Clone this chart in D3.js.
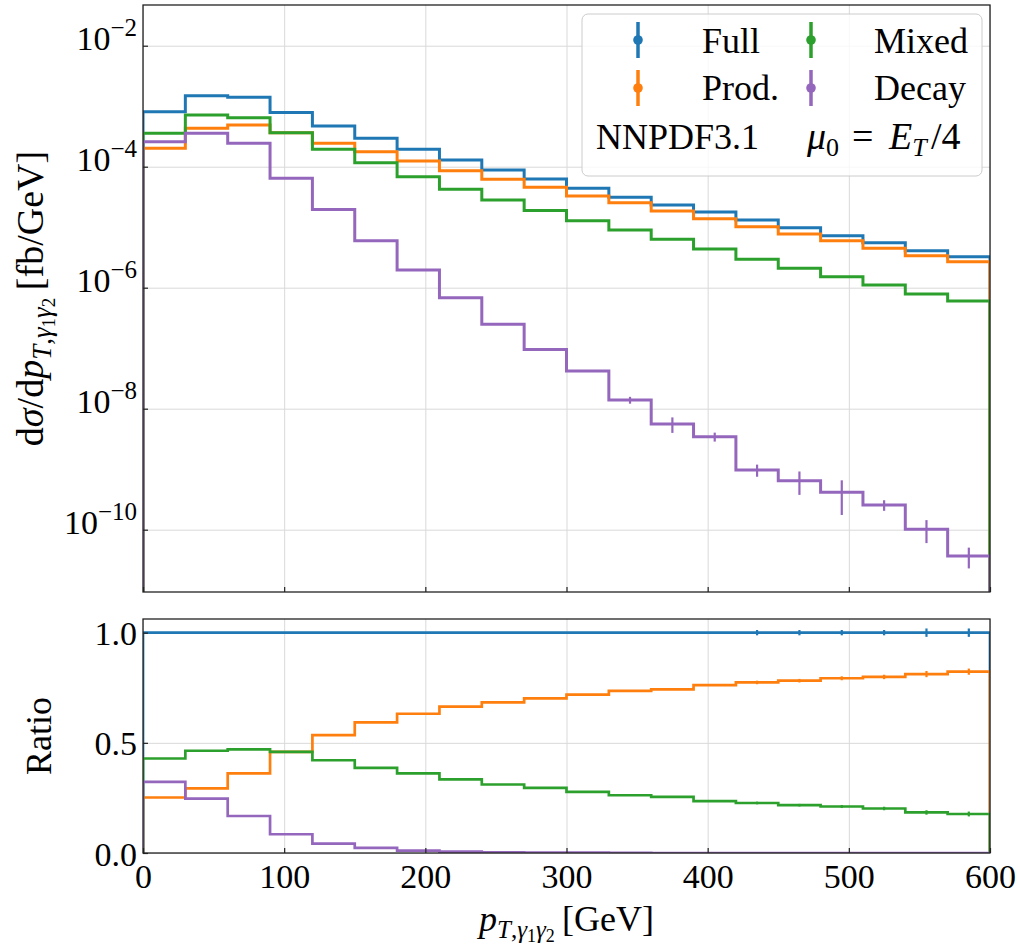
<!DOCTYPE html>
<html>
<head>
<meta charset="utf-8">
<script src="https://cdn.jsdelivr.net/npm/d3@7"></script>
<style>
  body { margin: 0; background: #fff; }
  svg text, svg tspan { font-family: "Liberation Serif", "DejaVu Serif", serif; fill: #000; }
</style>
</head>
<body>
<div id="wrapper"></div>
<script>
// bins in GeV
var binEdges = [0, 30, 60, 90, 120, 150, 180, 210, 240, 270, 300, 330, 360, 390, 420, 450, 480, 510, 540, 570, 600];

// dsigma/dpT [fb/GeV]
var fullXs  = [8.1e-4, 1.49e-3, 1.40e-3, 7.9e-4, 4.7e-4, 2.94e-4, 1.94e-4, 1.29e-4, 8.8e-5, 6.26e-5,
               4.4e-5, 3.12e-5, 2.33e-5, 1.78e-5, 1.31e-5, 9.8e-6, 7.24e-6, 5.55e-6, 4.09e-6, 3.25e-6];
var prodXs  = [2.01e-4, 4.31e-4, 4.89e-4, 3.65e-4, 2.44e-4, 1.77e-4, 1.24e-4, 8.59e-5, 6.19e-5, 4.57e-5,
               3.28e-5, 2.54e-5, 1.85e-5, 1.38e-5, 1.02e-5, 7.72e-6, 5.98e-6, 4.48e-6, 3.38e-6, 2.69e-6];
var mixedXs = [3.56e-4, 7.16e-4, 6.46e-4, 3.65e-4, 1.94e-4, 1.16e-4, 6.84e-5, 4.23e-5, 2.82e-5, 1.88e-5,
               1.28e-5, 8.99e-6, 6.31e-6, 4.36e-6, 2.95e-6, 2.09e-6, 1.52e-6, 1.11e-6, 7.87e-7, 6.03e-7];
var decayXs = [2.59e-4, 3.56e-4, 2.44e-4, 6.43e-5, 1.96e-5, 5.98e-6, 1.96e-6, 6.84e-7, 2.49e-7, 9.5e-8,
               4.2e-8, 1.39e-8, 5.58e-9, 3.44e-9, 9.7e-10, 6.46e-10, 4.15e-10, 2.56e-10, 1.02e-10, 3.67e-11];
var decayErr = [0, 0, 0, 0, 0, 0, 0, 0, 0, 0,
               1.3e-9, 1.8e-9, 1.6e-9, 5.8e-10, 2.2e-10, 2.7e-10, 2.4e-10, 5.1e-11, 4.2e-11, 1.38e-11];

// ratio to Full
var ratioFull  = [1, 1, 1, 1, 1, 1, 1, 1, 1, 1, 1, 1, 1, 1, 1, 1, 1, 1, 1, 1];
var ratioProd  = [0.252, 0.293, 0.361, 0.459, 0.535, 0.593, 0.632, 0.664, 0.684, 0.702,
                  0.719, 0.736, 0.743, 0.762, 0.774, 0.782, 0.793, 0.799, 0.812, 0.823];
var ratioMixed = [0.429, 0.464, 0.470, 0.459, 0.421, 0.386, 0.361, 0.334, 0.311, 0.296,
                  0.277, 0.262, 0.255, 0.235, 0.227, 0.217, 0.211, 0.202, 0.184, 0.177];
var ratioDecay = [0.323, 0.247, 0.168, 0.085, 0.043, 0.023, 0.011, 0.006, 0.003, 0.002,
                  0.0015, 0.0005, 0, 0, 0, 0, 0, 0, 0, 0];
var ratioErrBins  = [14, 15, 16, 17, 18, 19];
var ratioFullErr  = [0.012, 0.012, 0.012, 0.012, 0.019, 0.019];
var ratioProdErr  = [0.008, 0.008, 0.009, 0.010, 0.014, 0.014];
var ratioMixedErr = [0.006, 0.006, 0.007, 0.008, 0.010, 0.011];

var seriesNames = ['Full', 'Prod.', 'Mixed', 'Decay'];
var colors = ['#1f77b4', '#ff7f0e', '#2ca02c', '#9467bd'];
var xTicks = [0, 100, 200, 300, 400, 500, 600];
var logTicks = [1e-10, 1e-8, 1e-6, 1e-4, 1e-2];
var logTickExp = ['\u221210', '\u22128', '\u22126', '\u22124', '\u22122'];
var ratioTicks = [0, 0.5, 1.0];

var serif = '"Liberation Serif", "DejaVu Serif", serif';
var dimensions = {
    width: 1020, height: 947,
    left: 143, right: 990,
    mainTop: 5, mainBottom: 592,
    ratioTop: 619, ratioBottom: 853
};
var gridColor = '#d9d9d9';
var spineColor = '#222';

var svg = d3.select('#wrapper').append('svg')
    .attr('width', dimensions.width)
    .attr('height', dimensions.height);

var xScale = d3.scaleLinear().domain([0, 600]).range([dimensions.left, dimensions.right]);
var yScale = d3.scaleLog().domain([Math.pow(10, -11.03), Math.pow(10, -1.327)])
    .range([dimensions.mainBottom, dimensions.mainTop]);
var rScale = d3.scaleLinear().domain([0, 1.062]).range([dimensions.ratioBottom, dimensions.ratioTop]);

var defs = svg.append('defs');
defs.append('clipPath').attr('id', 'clipMain').append('rect')
    .attr('x', dimensions.left).attr('y', dimensions.mainTop)
    .attr('width', dimensions.right - dimensions.left)
    .attr('height', dimensions.mainBottom - dimensions.mainTop);
defs.append('clipPath').attr('id', 'clipRatio').append('rect')
    .attr('x', dimensions.left).attr('y', dimensions.ratioTop)
    .attr('width', dimensions.right - dimensions.left)
    .attr('height', dimensions.ratioBottom - dimensions.ratioTop);

// histtype="step": rise from the baseline, step through bins, drop back
function stepPoints(vals) {
    var pts = [[binEdges[0], null]];
    vals.forEach(function (v, i) {
        pts.push([binEdges[i], v]);
        pts.push([binEdges[i + 1], v]);
    });
    pts.push([binEdges[binEdges.length - 1], null]);
    return pts;
}
function stepLine(scale, base) {
    return d3.line()
        .x(function (d) { return xScale(d[0]); })
        .y(function (d) { return (d[1] == null || d[1] <= 0) ? base : scale(d[1]); });
}
function binCenter(i) { return (binEdges[i] + binEdges[i + 1]) / 2; }

// write a piece of math as tspans: [text, size, dy, italic, x]
function mathText(sel, parts) {
    parts.forEach(function (p) {
        var t = sel.append('tspan').text(p[0]).style('font-size', p[1] + 'px');
        if (p[2]) t.attr('dy', p[2]);
        if (p[3]) t.style('font-style', 'italic');
        if (p[4] != null) t.attr('x', p[4]);
    });
}

// ---------- upper panel ----------
var main = svg.append('g');

main.append('g')
    .attr('transform', 'translate(0,' + dimensions.mainBottom + ')')
    .call(d3.axisBottom(xScale).tickValues(xTicks)
        .tickSize(-(dimensions.mainBottom - dimensions.mainTop)).tickFormat(''))
    .call(function (g) { g.select('.domain').remove(); })
    .selectAll('line').attr('stroke', gridColor).attr('stroke-width', 1);

main.append('g')
    .attr('transform', 'translate(' + dimensions.left + ',0)')
    .call(d3.axisLeft(yScale).tickValues(logTicks)
        .tickSize(-(dimensions.right - dimensions.left)).tickFormat(''))
    .call(function (g) { g.select('.domain').remove(); })
    .selectAll('line').attr('stroke', gridColor).attr('stroke-width', 1);

var mainLines = main.append('g').attr('clip-path', 'url(#clipMain)');
[fullXs, prodXs, mixedXs, decayXs].forEach(function (vals, k) {
    mainLines.append('path')
        .attr('d', stepLine(yScale, dimensions.mainBottom + 5)(stepPoints(vals)))
        .attr('fill', 'none')
        .attr('stroke', colors[k])
        .attr('stroke-width', 3)
        .attr('stroke-linejoin', 'miter');
});
mainLines.selectAll('.decayErr')
    .data(decayXs.map(function (v, i) { return { v: v, e: decayErr[i], i: i }; })
        .filter(function (d) { return d.e > 0; }))
    .enter().append('line')
    .attr('class', 'decayErr')
    .attr('x1', function (d) { return xScale(binCenter(d.i)); })
    .attr('x2', function (d) { return xScale(binCenter(d.i)); })
    .attr('y1', function (d) { return yScale(d.v + d.e); })
    .attr('y2', function (d) { return yScale(d.v - d.e); })
    .attr('stroke', colors[3])
    .attr('stroke-width', 2.2);

// ticks pointing inwards
main.append('g')
    .attr('transform', 'translate(0,' + dimensions.mainBottom + ')')
    .call(d3.axisBottom(xScale).tickValues(xTicks).tickSize(-5).tickFormat(''))
    .call(function (g) { g.select('.domain').remove(); })
    .selectAll('line').attr('stroke', spineColor).attr('stroke-width', 1.2);

var yAxisMain = main.append('g')
    .attr('transform', 'translate(' + dimensions.left + ',0)')
    .attr('font-family', serif)
    .call(d3.axisLeft(yScale).tickValues(logTicks).tickSize(-5).tickPadding(6).tickFormat(''))
    .call(function (g) { g.select('.domain').remove(); });
yAxisMain.attr('font-family', serif);
yAxisMain.selectAll('line').attr('stroke', spineColor).attr('stroke-width', 1.2);
yAxisMain.selectAll('.tick text').each(function (d, i) {
    var t = d3.select(this).attr('dy', 4).attr('x', -6).style('font-size', null)
        .style('font-family', serif);
    mathText(t, [['10', 34, 0, false], [logTickExp[i], 25, -14, false]]);
});

main.append('rect')
    .attr('x', dimensions.left).attr('y', dimensions.mainTop)
    .attr('width', dimensions.right - dimensions.left)
    .attr('height', dimensions.mainBottom - dimensions.mainTop)
    .attr('fill', 'none').attr('stroke', spineColor).attr('stroke-width', 1.3);

var yLabel = main.append('text')
    .attr('transform', 'translate(43,' + (dimensions.mainTop + dimensions.mainBottom) / 2 + ') rotate(-90)')
    .attr('text-anchor', 'middle');
mathText(yLabel, [
    ['d', 38, 0, false], ['\u03c3', 38, 0, true], ['/d', 38, 0, false], ['p', 38, 0, true],
    ['T', 27, 8, true], [',', 27, 0, false], ['\u03b3', 27, 0, true],
    ['1', 19, 4, false], ['\u03b3', 27, -4, true], ['2', 19, 4, false],
    ['\u2009[fb/GeV]', 38, -12, false]
]);

// legend
var legend = main.append('g');
legend.append('rect')
    .attr('x', 582).attr('y', 14).attr('width', 400).attr('height', 162).attr('rx', 6)
    .attr('fill', '#fff').attr('fill-opacity', 0.8)
    .attr('stroke', '#cccccc').attr('stroke-width', 1);
var legendSlots = [
    { mx: 638, my: 40, tx: 702, ty: 53 },
    { mx: 638, my: 88, tx: 702, ty: 100 },
    { mx: 811, my: 40, tx: 874, ty: 53 },
    { mx: 811, my: 88, tx: 874, ty: 100 }
];
// Full, Prod. in the first column, Mixed, Decay in the second
[0, 1, 2, 3].forEach(function (k) {
    var s = legendSlots[k];
    legend.append('line')
        .attr('x1', s.mx).attr('x2', s.mx).attr('y1', s.my - 18).attr('y2', s.my + 18)
        .attr('stroke', colors[k]).attr('stroke-width', 3.5);
    legend.append('circle')
        .attr('cx', s.mx).attr('cy', s.my).attr('r', 4.8).attr('fill', colors[k]);
    legend.append('text')
        .attr('x', s.tx).attr('y', s.ty).style('font-size', '36px').text(seriesNames[k]);
});
legend.append('text').attr('x', 596).attr('y', 149).style('font-size', '36px').text('NNPDF3.1');
var muText = legend.append('text').attr('y', 149);
mathText(muText, [
    ['\u03bc', 38, 0, true, 807], ['0', 26, 7, false], ['=', 38, -7, false, 852],
    ['E', 38, 0, true, 889], ['T', 26, 7, true], ['/4', 38, -7, false, 931]
]);

// ---------- ratio panel ----------
var ratio = svg.append('g');

ratio.append('g')
    .attr('transform', 'translate(0,' + dimensions.ratioBottom + ')')
    .call(d3.axisBottom(xScale).tickValues(xTicks)
        .tickSize(-(dimensions.ratioBottom - dimensions.ratioTop)).tickFormat(''))
    .call(function (g) { g.select('.domain').remove(); })
    .selectAll('line').attr('stroke', gridColor).attr('stroke-width', 1);

ratio.append('g')
    .attr('transform', 'translate(' + dimensions.left + ',0)')
    .call(d3.axisLeft(rScale).tickValues(ratioTicks)
        .tickSize(-(dimensions.right - dimensions.left)).tickFormat(''))
    .call(function (g) { g.select('.domain').remove(); })
    .selectAll('line').attr('stroke', gridColor).attr('stroke-width', 1);

var ratioLines = ratio.append('g').attr('clip-path', 'url(#clipRatio)');
[ratioFull, ratioProd, ratioMixed, ratioDecay].forEach(function (vals, k) {
    ratioLines.append('path')
        .attr('d', stepLine(rScale, rScale(0))(stepPoints(vals)))
        .attr('fill', 'none')
        .attr('stroke', colors[k])
        .attr('stroke-width', 2.7)
        .attr('stroke-linejoin', 'miter');
});
[[ratioFull, ratioFullErr], [ratioProd, ratioProdErr], [ratioMixed, ratioMixedErr]].forEach(function (pair, k) {
    ratioLines.selectAll('.rerr' + k)
        .data(ratioErrBins.map(function (b, j) { return { i: b, v: pair[0][b], e: pair[1][j] }; }))
        .enter().append('line')
        .attr('class', 'rerr' + k)
        .attr('x1', function (d) { return xScale(binCenter(d.i)); })
        .attr('x2', function (d) { return xScale(binCenter(d.i)); })
        .attr('y1', function (d) { return rScale(d.v + d.e); })
        .attr('y2', function (d) { return rScale(d.v - d.e); })
        .attr('stroke', colors[k])
        .attr('stroke-width', 2.2);
});

var xAxisRatio = ratio.append('g')
    .attr('transform', 'translate(0,' + dimensions.ratioBottom + ')')
    .call(d3.axisBottom(xScale).tickValues(xTicks).tickSize(-5).tickFormat(d3.format('d')))
    .call(function (g) { g.select('.domain').remove(); });
xAxisRatio.attr('font-family', serif);
xAxisRatio.selectAll('line').attr('stroke', spineColor).attr('stroke-width', 1.2);
xAxisRatio.selectAll('text').attr('y', 35).attr('dy', null)
    .style('font-size', '34px').style('font-family', serif);

var yAxisRatio = ratio.append('g')
    .attr('transform', 'translate(' + dimensions.left + ',0)')
    .call(d3.axisLeft(rScale).tickValues(ratioTicks).tickSize(-5).tickPadding(6).tickFormat(d3.format('.1f')))
    .call(function (g) { g.select('.domain').remove(); });
yAxisRatio.attr('font-family', serif);
yAxisRatio.selectAll('line').attr('stroke', spineColor).attr('stroke-width', 1.2);
yAxisRatio.selectAll('text').attr('x', -6).attr('dy', 12)
    .style('font-size', '34px').style('font-family', serif);

ratio.append('rect')
    .attr('x', dimensions.left).attr('y', dimensions.ratioTop)
    .attr('width', dimensions.right - dimensions.left)
    .attr('height', dimensions.ratioBottom - dimensions.ratioTop)
    .attr('fill', 'none').attr('stroke', spineColor).attr('stroke-width', 1.3);

ratio.append('text')
    .attr('transform', 'translate(51,' + (dimensions.ratioTop + dimensions.ratioBottom) / 2 + ') rotate(-90)')
    .attr('text-anchor', 'middle')
    .style('font-size', '36px')
    .text('Ratio');

var xLabel = ratio.append('text')
    .attr('x', (dimensions.left + dimensions.right) / 2)
    .attr('y', 931)
    .attr('text-anchor', 'middle');
mathText(xLabel, [
    ['p', 36, 0, true], ['T', 25, 7, true], [',', 25, 0, false], ['\u03b3', 25, 0, true],
    ['1', 18, 4, false], ['\u03b3', 25, -4, true], ['2', 18, 4, false],
    ['\u2009[GeV]', 36, -11, false]
]);
</script>
</body>
</html>
